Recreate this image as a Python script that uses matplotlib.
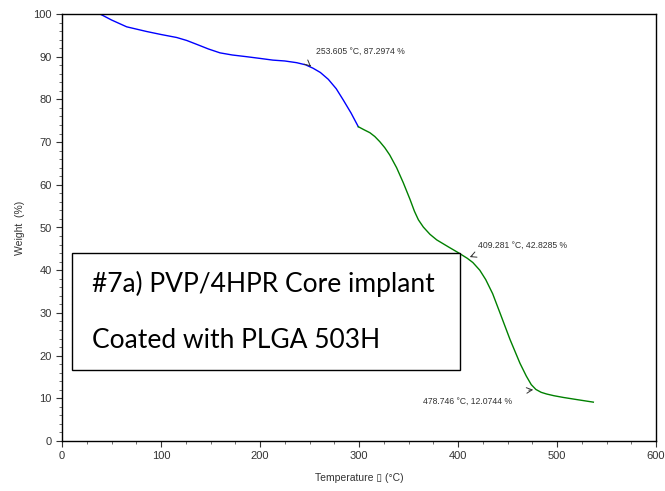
import matplotlib.pyplot as plt
from matplotlib.patches import Rectangle
from matplotlib.ticker import MultipleLocator

# blue segment (first step)
temp_blue = [38.4, 50, 65.3, 85.5, 100, 115.8, 126, 136, 148, 159.6, 172, 186.5, 200, 213,
             225, 237, 246, 253.6, 261, 269, 277, 284, 292, 299.3]
weight_blue = [100.0, 98.6, 97.0, 95.9, 95.2, 94.5, 93.8, 92.9, 91.8, 90.9, 90.4, 90.0, 89.6, 89.2,
               89.0, 88.6, 88.1, 87.3, 86.3, 84.7, 82.5, 79.9, 76.8, 73.6]

# green segment (second step)
temp_green = [299.3, 305, 311, 316, 321, 326, 331, 338, 344.7, 351.5, 356, 360, 365, 371.7,
              378.5, 390, 400.3, 409.3, 415, 422, 428, 435, 442.4, 452.5, 462.6, 469,
              474, 478.7, 484, 489.6, 497, 506.4, 520, 536.7]
weight_green = [73.6, 72.9, 72.2, 71.3, 70.1, 68.7, 67.0, 64.0, 60.5, 56.6, 53.8, 51.8, 50.1, 48.4,
                47.1, 45.5, 44.1, 42.8, 41.8, 40.0, 37.8, 34.5, 30.0, 23.8, 18.2, 15.2,
                13.2, 12.07, 11.4, 11.0, 10.6, 10.2, 9.7, 9.1]

marks_t = [253.605, 409.281, 478.746]
marks_w = [87.2974, 42.8285, 12.0744]
mark_labels = ["253.605 °C, 87.2974 %", "409.281 °C, 42.8285 %", "478.746 °C, 12.0744 %"]

plt.rcParams['font.family'] = ['Liberation Sans', 'DejaVu Sans']

fig = plt.figure(figsize=(6.65, 4.91), dpi=100)
ax = fig.add_axes([62 / 665, 50 / 491, 594 / 665, 427 / 491])

ax.plot(temp_blue, weight_blue, color='#0000ff', lw=1)
ax.plot(temp_green, weight_green, color='#008000', lw=1)

ax.set_xlim(0, 600)
ax.set_ylim(0, 100)
ax.xaxis.set_major_locator(MultipleLocator(100))
ax.xaxis.set_minor_locator(MultipleLocator(25))
ax.yaxis.set_major_locator(MultipleLocator(10))
ax.yaxis.set_minor_locator(MultipleLocator(2))
ax.tick_params(which='major', direction='out', length=4, width=0.8, labelsize=8, colors='#333333')
ax.tick_params(which='minor', direction='out', length=2, width=0.6, colors='#555555')
for s in ax.spines.values():
    s.set_linewidth(1.0)

ax.set_xlabel("Temperature \u25af (°C)", fontsize=7.5, color='#333333', labelpad=8)
ax.set_ylabel("Weight  (%)", fontsize=7.5, color='#333333', labelpad=6)

# point annotations with small arrows
offsets = [(-5, 4), (8, 3), (-10, -1)]
text_pos = [(256.6, 91.3), (420.2, 45.9), (364.6, 9.4)]
for t, w, lab, (dx, dw), tp in zip(marks_t, marks_w, mark_labels, offsets, text_pos):
    ax.annotate("", xy=(t, w), xytext=(t + dx, w + dw * 0.25),
                arrowprops=dict(arrowstyle='->', color='#333333', lw=0.7))
    ax.text(tp[0], tp[1], lab, fontsize=6.2, color='#333333', va='center')

# sample label box
ax.add_patch(Rectangle((10.3, 16.6), 392, 27.4, fill=True, facecolor='white',
                       edgecolor='black', lw=1.0, zorder=3))
ax.text(30.5, 36.8, "#7a) PVP/4HPR Core implant", fontsize=19, family=['Lato', 'DejaVu Sans'],
        va='center', zorder=4)
ax.text(30.5, 23.6, "Coated with PLGA 503H", fontsize=19, family=['Lato', 'DejaVu Sans'],
        va='center', zorder=4)

fig.savefig("out.png", dpi=100)
